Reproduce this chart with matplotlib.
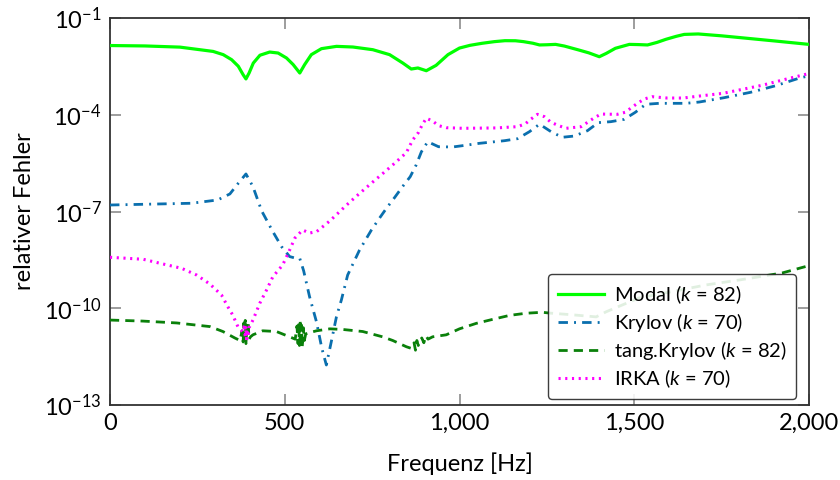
import matplotlib
matplotlib.use("Agg")
import matplotlib.pyplot as plt
from matplotlib.ticker import FixedLocator, FuncFormatter, NullLocator

plt.rcParams['font.family'] = ['Lato', 'DejaVu Sans']
plt.rcParams['mathtext.fontset'] = 'custom'
plt.rcParams['mathtext.rm'] = 'Lato'
plt.rcParams['mathtext.it'] = 'Lato:italic'

# ---------------- data ----------------
modal_hz = [0, 100, 200, 257, 295, 324, 348, 367, 381, 389, 398, 410, 429, 457, 481, 505,
            524, 543, 557, 576, 605, 648, 695, 752, 800, 838, 862, 881, 905, 933, 967,
            1000, 1030, 1064, 1100, 1130, 1160, 1183, 1210, 1229, 1250, 1275, 1300, 1341,
            1370, 1400, 1420, 1446, 1486, 1510, 1538, 1565, 1591, 1620, 1643, 1683, 1750,
            1814, 1900, 2000]
modal_err = [1.4e-2, 1.36e-2, 1.25e-2, 1.04e-2, 9.2e-3, 7.3e-3, 5.1e-3, 3.2e-3, 1.74e-3,
             1.29e-3, 1.97e-3, 4.0e-3, 7.0e-3, 8.8e-3, 8.2e-3, 5.75e-3,
             3.6e-3, 1.97e-3, 3.6e-3, 7.3e-3, 1.12e-2, 1.32e-2, 1.26e-2, 1.04e-2, 7.3e-3,
             4.0e-3, 2.62e-3, 2.82e-3, 2.32e-3, 3.4e-3, 7.3e-3,
             1.17e-2, 1.42e-2, 1.64e-2, 1.85e-2, 1.98e-2, 1.97e-2, 1.85e-2, 1.65e-2, 1.46e-2,
             1.48e-2, 1.52e-2, 1.35e-2, 1.02e-2,
             8.3e-3, 6.3e-3, 8.0e-3, 1.15e-2, 1.52e-2, 1.5e-2, 1.46e-2, 1.75e-2, 2.19e-2,
             2.7e-2, 3.1e-2, 3.2e-2, 2.8e-2,
             2.4e-2, 1.95e-2, 1.52e-2]

krylov_hz = [0, 233, 308, 343, 367, 389, 409, 434, 466, 491, 514, 530, 543, 554, 571, 591, 606,
             619, 633, 648, 662, 680, 714, 748, 771, 791, 814, 837, 859, 876, 891, 909, 940,
             980, 1017, 1057, 1129, 1166, 1200, 1229, 1262, 1294, 1329, 1366, 1397, 1433,
             1471, 1503, 1533, 1571, 1648, 1686, 1757, 1833, 1905, 1976, 2000]
krylov_err = [1.59e-7, 1.8e-7, 2.28e-7, 3.5e-7, 7.5e-7, 1.46e-6, 5.9e-7, 1.04e-7, 2.37e-8,
              8.1e-9, 4.0e-9, 3.6e-9, 3.5e-9, 1.46e-9, 2.28e-10, 3.7e-11, 5.8e-12,
              1.74e-12, 9e-12, 5.5e-11, 1.8e-10, 1.07e-9, 6.4e-9, 2.67e-8, 6.2e-8, 1.26e-7,
              2.68e-7, 5.9e-7, 1.2e-6, 2.77e-6, 7.1e-6, 1.46e-5, 1.02e-5,
              1.0e-5, 1.13e-5, 1.3e-5, 1.57e-5, 1.81e-5, 2.98e-5, 5.1e-5, 2.98e-5, 2.0e-5,
              2.19e-5, 3.2e-5, 5.7e-5, 6.1e-5,
              7.2e-5, 1.19e-4, 2.11e-4, 2.26e-4, 2.26e-4, 2.48e-4, 3.38e-4, 4.97e-4, 7.96e-4,
              1.41e-3, 1.6e-3]

tang_hz = [0, 94, 191, 286, 323, 357, 372, 378, 381, 383, 385, 387, 389, 391, 393, 395, 398,
           402, 409, 437, 476, 514, 530, 535, 538, 540, 542, 544, 546, 548, 550, 553, 556,
           560, 571, 591, 629, 666, 723, 780, 809, 848, 862, 870, 874, 878, 882, 886, 892,
           898, 904, 910, 923, 962, 1000, 1048, 1094, 1143, 1190, 1237, 1257, 1320, 1391,
           1420, 1514, 1609, 1706, 1800, 1923, 2000]
tang_err = [4.3e-11, 4.0e-11, 3.5e-11, 2.7e-11, 1.9e-11, 1.2e-11, 1.0e-11, 2.0e-11, 9e-12,
            3.5e-11, 1.2e-11, 4.2e-11, 8e-12, 3.0e-11, 1.4e-11, 3.8e-11, 1.1e-11,
            1.3e-11, 1.5e-11, 2.0e-11, 1.9e-11, 1.3e-11, 1.1e-11, 2.8e-11, 8e-12, 3.5e-11,
            7e-12, 4.5e-11, 9e-12, 3e-11, 6e-12, 2.5e-11, 1.0e-11,
            1.6e-11, 1.75e-11, 2.0e-11, 2.3e-11, 2.2e-11, 1.9e-11, 1.3e-11, 1.0e-11, 6.4e-12,
            5.7e-12, 8.5e-12, 5e-12, 1.0e-11, 7e-12, 9.2e-12, 1.2e-11,
            8.5e-12, 1.4e-11, 1.1e-11, 1.3e-11, 1.5e-11, 2.3e-11, 3.4e-11, 4.5e-11, 6.0e-11,
            7.0e-11, 7.5e-11, 7.1e-11, 6.3e-11, 5.4e-11,
            7.8e-11, 2.1e-10, 3.3e-10, 5.3e-10, 7.5e-10, 1.24e-9, 2.1e-9]

irka_hz = [0, 95, 143, 205, 248, 286, 319, 337, 351, 366, 380, 385, 387, 389, 391, 393, 395,
           398, 409, 429, 448, 466, 494, 514, 529, 551, 571, 591, 609, 629, 657, 677, 711,
           745, 779, 814, 848, 866, 883, 893, 905, 923, 940, 962, 1009, 1105, 1166, 1188,
           1205, 1223, 1243, 1262, 1286, 1305, 1348, 1386, 1405, 1451, 1474, 1509, 1529,
           1551, 1594, 1640, 1686, 1754, 1800, 1866, 1933, 2000]
irka_err = [3.8e-9, 3.3e-9, 2.48e-9, 1.73e-9, 1.07e-9, 5.6e-10, 2.58e-10, 1.12e-10, 6.2e-11,
            2.68e-11, 1.87e-11, 3.2e-11, 1.2e-11, 2.8e-11, 9e-12, 2.2e-11, 1.3e-11,
            2.5e-11, 4.3e-11, 1.46e-10, 3.7e-10, 9.5e-10, 2.19e-9, 6.4e-9, 1.5e-8, 2.67e-8,
            2.15e-8, 2.37e-8, 3.4e-8, 5.1e-8, 9.9e-8, 1.59e-7, 3.4e-7,
            7.1e-7, 1.46e-6, 3.1e-6, 6.7e-6, 1.65e-5, 2.86e-5, 4.8e-5, 7.8e-5, 6.4e-5, 4.6e-5,
            3.97e-5, 3.8e-5, 3.9e-5, 4.27e-5, 5.2e-5,
            7.4e-5, 1.03e-4, 8.7e-5, 5.8e-5, 4.5e-5, 3.8e-5, 4.27e-5, 8.1e-5, 1.05e-4,
            1.03e-4, 1.19e-4, 2.26e-4, 3.08e-4,
            3.63e-4, 3.3e-4, 3.3e-4, 3.8e-4, 4.62e-4, 5.85e-4, 8.2e-4, 1.26e-3, 1.9e-3]

labels = [r'Modal ($k$ = 82)', r'Krylov ($k$ = 70)', r'tang.Krylov ($k$ = 82)', r'IRKA ($k$ = 70)']
x_ticks = [0, 500, 1000, 1500, 2000]
y_ticks = [1e-13, 1e-10, 1e-7, 1e-4, 1e-1]

# ---------------- figure ----------------
fig = plt.figure(figsize=(8.4, 4.8), dpi=100)
ax = fig.add_axes([110 / 840, 1 - 405 / 480, 699 / 840, 387 / 480])

ax.plot(modal_hz, modal_err, color='#00ff00', lw=2.3, label=labels[0], zorder=3)
ax.plot(krylov_hz, krylov_err, color='#0a6fae', lw=2.0, dashes=(3.4, 2.2, 0.7, 2.2),
        label=labels[1], zorder=3)
ax.plot(tang_hz, tang_err, color='#0a800a', lw=2.0, dashes=(3.3, 2.2), label=labels[2], zorder=3)
ax.plot(irka_hz, irka_err, color='#ff00ff', lw=2.2, dashes=(0.7, 1.5), label=labels[3], zorder=3)

ax.set_yscale('log')
ax.set_xlim(0, 2000)
ax.set_ylim(1e-13, 1e-1)
ax.xaxis.set_major_locator(FixedLocator(x_ticks))
ax.xaxis.set_major_formatter(FuncFormatter(lambda v, p: f'{v:,.0f}'))
ax.yaxis.set_major_locator(FixedLocator(y_ticks))
ax.yaxis.set_minor_locator(NullLocator())

ax.tick_params(which='major', direction='in', length=8, width=1.2, color='#8c8c8c',
               top=True, right=True, labelsize=17, pad=6)
for s in ax.spines.values():
    s.set_color('#333333')
    s.set_linewidth(1.3)

ax.set_xlabel('Frequenz [Hz]', fontsize=17, labelpad=13)
ax.set_ylabel('relativer Fehler', fontsize=17, labelpad=6)

leg = ax.legend(loc='lower right', fontsize=14.5, frameon=True, fancybox=True,
                framealpha=0.88, edgecolor='#222222', handlelength=2.3,
                borderaxespad=0.3, labelspacing=0.25, borderpad=0.45, handletextpad=0.5,
                bbox_to_anchor=(0.99, 0.0))
leg.get_frame().set_linewidth(1.0)

fig.savefig('out.png', dpi=100)
